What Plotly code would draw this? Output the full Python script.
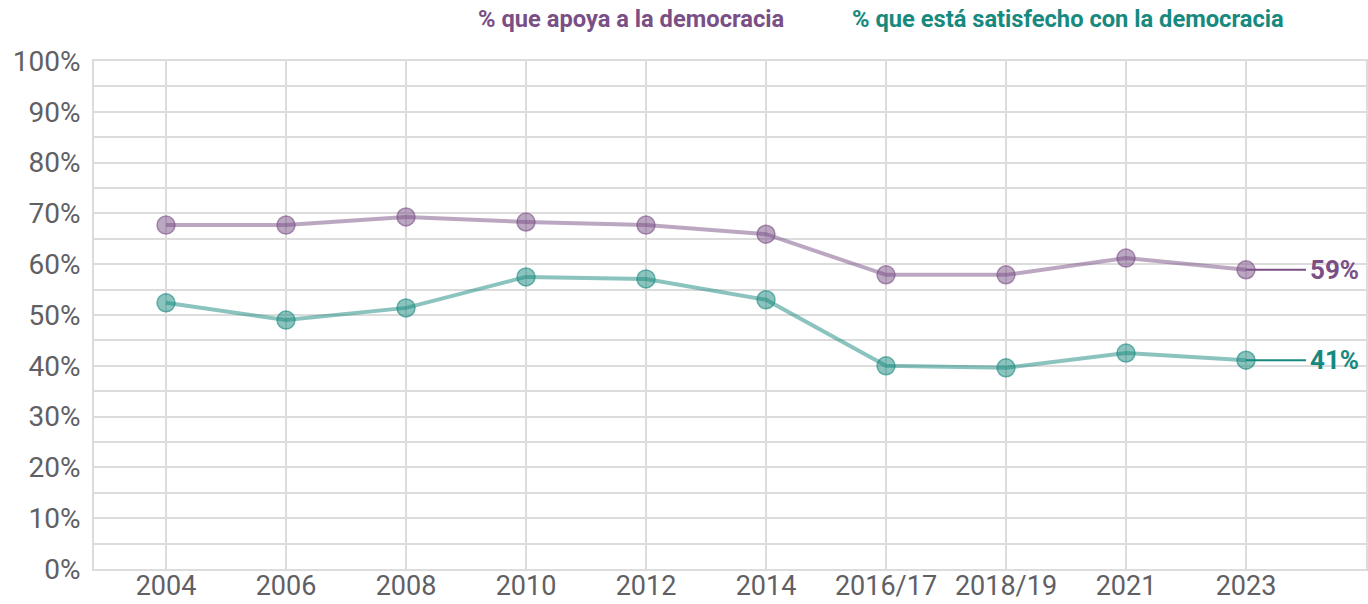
import plotly.graph_objects as go

categories = ["2004", "2006", "2008", "2010", "2012", "2014", "2016/17", "2018/19", "2021", "2023"]
apoya = [67.7, 67.7, 69.3, 68.3, 67.7, 65.9, 57.9, 57.9, 61.2, 58.9]
satisfecho = [52.4, 49.0, 51.4, 57.5, 57.1, 53.0, 40.0, 39.6, 42.5, 41.1]
series_names = ["% que apoya a la democracia", "% que está satisfecho con la democracia"]
end_labels = ["59%", "41%"]
y_ticks = list(range(0, 101, 10))
y_tick_labels = [f"{v}%" for v in y_ticks]

PURPLE = "#7a4f86"
TEAL = "#17897e"
GRID = "#dcdcdc"
TICK = "#5f5f64"

fig = go.Figure()
for vals, col, name in [(apoya, (122, 79, 134), series_names[0]), (satisfecho, (23, 137, 126), series_names[1])]:
    r, g, b = col
    fig.add_trace(go.Scatter(
        x=categories, y=vals, mode="lines+markers", name=name,
        line=dict(color=f"rgba({r},{g},{b},0.5)", width=4),
        marker=dict(size=18, color=f"rgba({r},{g},{b},0.5)",
                    line=dict(color=f"rgba({r},{g},{b},0.6)", width=1.5)),
        showlegend=False, cliponaxis=False,
    ))

# end connectors and labels
for vals, colr, lab in [(apoya, PURPLE, end_labels[0]), (satisfecho, TEAL, end_labels[1])]:
    n = len(categories) - 1
    fig.add_shape(type="line", xref="x", yref="y", x0=n, x1=n + 0.5,
                  y0=vals[-1], y1=vals[-1], line=dict(color=colr, width=2), layer="above")
    fig.add_annotation(x=n + 0.52, y=vals[-1], xref="x", yref="y", text=f"<b>{lab}</b>",
                       showarrow=False, xanchor="left", yanchor="middle",
                       font=dict(family="Roboto", size=26, color=colr))

# top legend-like titles
fig.add_annotation(x=(476 - 94) / 1272, y=1 + (61 - 19) / 508, xref="paper", yref="paper",
                   text=f"<b>{series_names[0]}</b>", showarrow=False, xanchor="left", yanchor="middle",
                   font=dict(family="Roboto", size=23.7, color=PURPLE))
fig.add_annotation(x=(850 - 94) / 1272, y=1 + (61 - 19) / 508, xref="paper", yref="paper",
                   text=f"<b>{series_names[1]}</b>", showarrow=False, xanchor="left", yanchor="middle",
                   font=dict(family="Roboto", size=23.7, color=TEAL))

fig.update_layout(
    width=1368, height=604,
    margin=dict(l=94, r=2, t=61, b=35),
    plot_bgcolor="white", paper_bgcolor="white",
    font=dict(family="Roboto", color=TICK),
    xaxis=dict(type="category", categoryorder="array", categoryarray=categories,
               range=[-0.6, 10.0], showgrid=True, gridcolor=GRID, gridwidth=2,
               showline=True, linecolor=GRID, linewidth=2, mirror=True, automargin=False,
               ticks="", ticklabelstandoff=-8,
               tickfont=dict(family="Roboto", size=27, color=TICK), zeroline=False),
    yaxis=dict(range=[0, 100], tickvals=y_ticks, ticktext=y_tick_labels,
               showgrid=True, gridcolor=GRID, gridwidth=2,
               minor=dict(dtick=5, showgrid=True, gridcolor=GRID, gridwidth=2),
               showline=True, linecolor=GRID, linewidth=2, mirror=True, automargin=False,
               ticks="", ticklabelstandoff=6,
               tickfont=dict(family="Roboto", size=28, color=TICK), zeroline=False),
)

fig.write_html("out.html", config={"displayModeBar": False})
with open("out.html", "r", encoding="utf-8") as f:
    html = f.read()
html = html.replace("<head>", "<head><style>html,body{margin:0;padding:0;overflow:hidden;}</style>", 1)
with open("out.html", "w", encoding="utf-8") as f:
    f.write(html)
